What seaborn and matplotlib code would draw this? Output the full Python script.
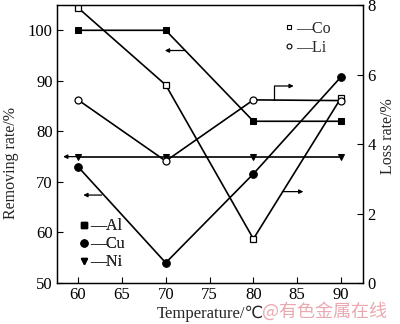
import matplotlib
matplotlib.use("Agg")
import matplotlib.pyplot as plt
import seaborn as sns
import pandas as pd
from matplotlib.lines import Line2D

temps = [60, 70, 80, 90]
al = [100, 100, 82, 82]
cu = [73, 54, 71.6, 90.8]
ni = [75, 75, 75, 75]
co = [7.92, 5.70, 1.27, 5.33]
li = [5.27, 3.51, 5.27, 5.25]

sns.set_theme(style="ticks")
plt.rcParams['font.family'] = ['Liberation Serif', 'DejaVu Serif']

fig = plt.figure(figsize=(4.0, 3.24), dpi=100)
ax = fig.add_axes([0.1425, 0.1265, 0.765, 0.858])
ax2 = ax.twinx()

df = pd.DataFrame({"T": temps, "Al": al, "Cu": cu, "Ni": ni, "Co": co, "Li": li})

lw = 1.2
ms = 5
sns.lineplot(data=df, x="T", y="Al", ax=ax, color="black", lw=lw, marker="s",
             markersize=ms, markerfacecolor="black", markeredgecolor="black")
sns.lineplot(data=df, x="T", y="Cu", ax=ax, color="black", lw=lw, marker="o",
             markersize=ms + 0.5, markerfacecolor="black", markeredgecolor="black")
sns.lineplot(data=df, x="T", y="Ni", ax=ax, color="black", lw=lw, marker="v",
             markersize=ms, markerfacecolor="black", markeredgecolor="black")
sns.lineplot(data=df, x="T", y="Co", ax=ax2, color="black", lw=lw, marker="s",
             markersize=ms - 0.3, markerfacecolor="white", markeredgecolor="black", markeredgewidth=0.9)
sns.lineplot(data=df, x="T", y="Li", ax=ax2, color="black", lw=lw, marker="o",
             markersize=ms, markerfacecolor="white", markeredgecolor="black", markeredgewidth=0.9)

ax.set_xlim(57.6, 92.5)
ax.set_ylim(50, 105)
ax2.set_ylim(0, 8)
ax.set_xticks([60, 65, 70, 75, 80, 85, 90])
ax.set_yticks([50, 60, 70, 80, 90, 100])
ax2.set_yticks([0, 2, 4, 6, 8])

for a in (ax, ax2):
    a.tick_params(direction="in", length=4, width=0.8, labelsize=12, colors="black", pad=3)
    for s in a.spines.values():
        s.set_linewidth(0.9)
        s.set_color("black")
ax.tick_params(axis="x", pad=3)

ax.set_xlabel("Temperature/℃", fontsize=12, family=['Liberation Serif', 'DejaVu Sans'])
ax.set_ylabel("Removing rate/%", fontsize=11.5)
ax2.set_ylabel("Loss rate/%", fontsize=11.5)
ax.xaxis.set_label_coords(0.5, -0.083)
ax.yaxis.set_label_coords(-0.125, 0.43)
ax2.yaxis.set_label_coords(1.055, 0.53)

# Arrows
ap = dict(arrowstyle="-|>", color="black", lw=0.9, mutation_scale=6, shrinkA=0, shrinkB=0)
ax.annotate("", xy=(69.9, 96), xytext=(72.2, 96), arrowprops=ap)
ax.annotate("", xy=(58.3, 75), xytext=(60.0, 75), arrowprops=ap)
ax.annotate("", xy=(60.6, 67.4), xytext=(62.7, 67.4), arrowprops=ap)
ax2.annotate("", xy=(85.7, 2.63), xytext=(83.3, 2.63), arrowprops=ap)
ax2.plot([82.4, 82.4], [5.26, 5.67], color="black", lw=0.9)
ax2.annotate("", xy=(84.6, 5.67), xytext=(82.4, 5.67), arrowprops=ap)

# Legends
h1 = [Line2D([], [], ls="none", marker="s", color="black", markersize=4.5),
      Line2D([], [], ls="none", marker="o", color="black", markersize=5),
      Line2D([], [], ls="none", marker="v", color="black", markersize=4.5)]
leg1 = ax.legend(h1, ["—Al", "—Cu", "—Ni"], loc="lower left", bbox_to_anchor=(0.03, 0.0),
                 frameon=False, handlelength=0.6, handletextpad=0.1, labelspacing=0.12,
                 fontsize=11.5, borderpad=0.3)
ax.add_artist(leg1)
h2 = [Line2D([], [], ls="none", marker="s", color="black", markerfacecolor="white",
             markersize=3.5, markeredgewidth=0.8),
      Line2D([], [], ls="none", marker="o", color="black", markerfacecolor="white",
             markersize=3.5, markeredgewidth=0.8)]
ax2.legend(h2, ["—Co", "—Li"], loc="upper right", bbox_to_anchor=(0.935, 0.99),
           frameon=False, handlelength=0.6, handletextpad=0.1, labelspacing=0.2,
           fontsize=11.5, borderpad=0.3)

fig.text(0.655, 0.038, "@有色金属在线", fontsize=13, color="#e8a0a8",
         family=['Noto Sans CJK SC', 'DejaVu Sans'], va="center", ha="left", alpha=0.9)

fig.savefig("out.png", dpi=100)
